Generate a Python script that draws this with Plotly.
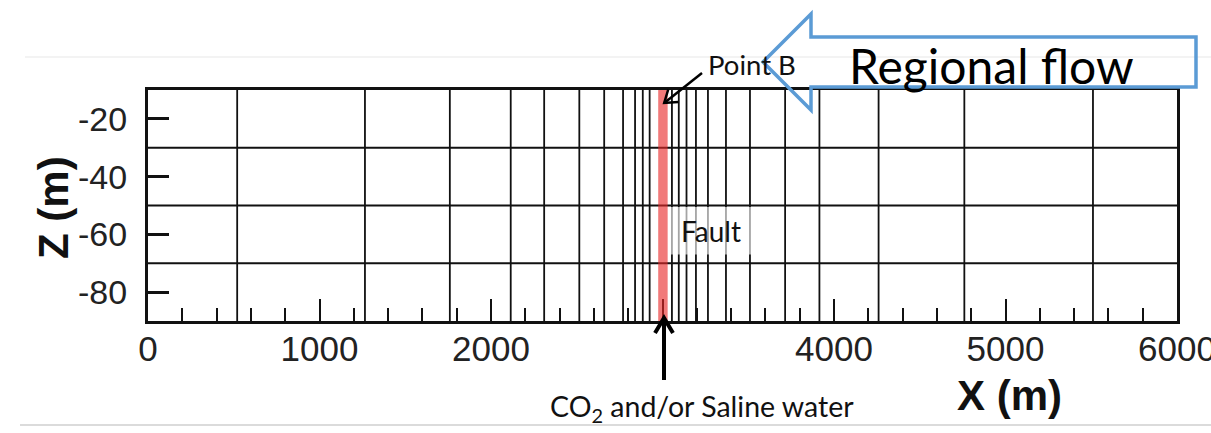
import plotly.graph_objects as go

# ---------------- data ----------------
X_RANGE = [0, 6000]
Z_RANGE = [-90, -10]
X_MESH = [520, 1265, 1760, 2115, 2310, 2515, 2660, 2770, 2840, 2885, 2925,
          3055, 3095, 3140, 3195, 3265, 3370, 3510, 3715, 3915, 4260, 4760, 5510]
Z_MESH = [-30, -50, -70]
Z_TICKS = [-20, -40, -60, -80]
X_TICKS = [0, 1000, 2000, 3000, 4000, 5000, 6000]
X_TICK_LABELS = ["0", "1000", "2000", "", "4000", "5000", "6000"]
FAULT_X = [2975, 3030]
FAULT_CENTER = 3000
POINT_B = (3010, -14.5)
FAULT_LABEL_BOX = [3032, 3585, -67, -50.5]
FAULT_LABEL_POS = (3281, -58.8)

# ---------------- geometry helpers ----------------
W, H = 1211, 433
PL, PR, PT, PB = 148, 1177, 90, 321


def xp(px):  # pixel -> paper
    return (px - PL) / (PR - PL)


def yp(py):
    return (PB - py) / (PB - PT)


def dx_paper(x):  # data -> paper
    return (x - X_RANGE[0]) / (X_RANGE[1] - X_RANGE[0])


def dy_paper(z):
    return (z - Z_RANGE[0]) / (Z_RANGE[1] - Z_RANGE[0])


def paper_to_px(px_, py_):
    return PL + px_ * (PR - PL), PB - py_ * (PB - PT)


fig = go.Figure()

# vertical mesh lines
vx, vy = [], []
for x in X_MESH:
    vx += [x, x, None]
    vy += [Z_RANGE[0], Z_RANGE[1], None]
fig.add_trace(go.Scatter(x=vx, y=vy, mode="lines",
                         line=dict(color="#111", width=1.8),
                         hoverinfo="skip", showlegend=False))
# horizontal mesh lines
hx, hy = [], []
for z in Z_MESH:
    hx += [X_RANGE[0], X_RANGE[1], None]
    hy += [z, z, None]
fig.add_trace(go.Scatter(x=hx, y=hy, mode="lines",
                         line=dict(color="#111", width=1.8),
                         hoverinfo="skip", showlegend=False))

shapes = []
# fault band
shapes.append(dict(type="rect", xref="x", yref="y", x0=FAULT_X[0], x1=FAULT_X[1],
                   y0=Z_RANGE[0], y1=Z_RANGE[1], fillcolor="rgba(232,40,40,0.62)",
                   line=dict(width=0), layer="above"))
# fault label box
shapes.append(dict(type="rect", xref="x", yref="y", x0=FAULT_LABEL_BOX[0], x1=FAULT_LABEL_BOX[1],
                   y0=FAULT_LABEL_BOX[2], y1=FAULT_LABEL_BOX[3], fillcolor="rgba(255,255,255,0.62)",
                   line=dict(width=0), layer="above"))

# slide guide lines
shapes.append(dict(type="line", xref="paper", yref="paper", x0=xp(25), x1=xp(1211),
                   y0=yp(57), y1=yp(57), line=dict(color="#efefef", width=1.5)))
shapes.append(dict(type="line", xref="paper", yref="paper", x0=xp(20), x1=xp(1211),
                   y0=yp(425), y1=yp(425), line=dict(color="#cfcfcf", width=1.5)))

# Regional flow arrow (blue outline)
poly = [(763, 62), (811, 14), (811, 37), (1196, 37), (1196, 87), (811, 87), (811, 110)]
path = "M " + " L ".join(f"{xp(a):.5f},{yp(b):.5f}" for a, b in poly) + " Z"
shapes.append(dict(type="path", xref="paper", yref="paper", path=path,
                   line=dict(color="#5b9bd5", width=3.5), fillcolor="rgba(0,0,0,0)"))

# CO2 arrow (vertical, open head)
cx_px, _ = paper_to_px(dx_paper(FAULT_CENTER), 0)
cx_px += 1.5
tip_y = PB - 3
shapes.append(dict(type="line", xref="paper", yref="paper", x0=xp(cx_px), x1=xp(cx_px),
                   y0=yp(380), y1=yp(tip_y + 2), line=dict(color="black", width=4)))
shapes.append(dict(type="path", xref="paper", yref="paper",
                   path=f"M {xp(cx_px-9):.5f},{yp(tip_y+15):.5f} L {xp(cx_px):.5f},{yp(tip_y):.5f} L {xp(cx_px+9):.5f},{yp(tip_y+15):.5f}",
                   line=dict(color="black", width=4), fillcolor="rgba(0,0,0,0)"))

# Point B arrow
bx_px, by_px = paper_to_px(dx_paper(POINT_B[0]), dy_paper(POINT_B[1]))
tail = (702, 73)
shapes.append(dict(type="line", xref="paper", yref="paper", x0=xp(tail[0]), y0=yp(tail[1]),
                   x1=xp(bx_px), y1=yp(by_px), line=dict(color="black", width=2.5)))
shapes.append(dict(type="path", xref="paper", yref="paper",
                   path=f"M {xp(bx_px+14):.5f},{yp(by_px-1):.5f} L {xp(bx_px):.5f},{yp(by_px):.5f} L {xp(bx_px+4):.5f},{yp(by_px-13.5):.5f}",
                   line=dict(color="black", width=2.5), fillcolor="rgba(0,0,0,0)"))

CAL = "Lato, Carlito, Calibri, sans-serif"
HEL = "Liberation Sans, Arial, Helvetica, sans-serif"

annotations = [
    dict(text="Regional flow", xref="paper", yref="paper", x=xp(991), y=yp(65),
         xanchor="center", yanchor="middle", showarrow=False,
         font=dict(family=CAL, size=48, color="black")),
    dict(text="Point B", xref="paper", yref="paper", x=xp(706), y=yp(64),
         xanchor="left", yanchor="middle", showarrow=False,
         font=dict(family=CAL, size=27.5, color="#111")),
    dict(text="Fault", xref="x", yref="y", x=FAULT_LABEL_POS[0], y=FAULT_LABEL_POS[1],
         xanchor="center", yanchor="middle", showarrow=False,
         font=dict(family=CAL, size=28, color="#111")),
    dict(text="CO<sub>2</sub> and/or Saline water", xref="paper", yref="paper", x=xp(702), y=yp(408),
         xanchor="center", yanchor="middle", showarrow=False,
         font=dict(family=CAL, size=28.5, color="#111")),
    dict(text="<b>X (m)</b>", xref="paper", yref="paper", x=xp(1009), y=yp(395),
         xanchor="center", yanchor="middle", showarrow=False,
         font=dict(family=HEL, size=42, color="#111")),
    dict(text="<b>Z (m)</b>", xref="paper", yref="paper", x=xp(53), y=yp(208),
         xanchor="center", yanchor="middle", showarrow=False, textangle=-90,
         font=dict(family=HEL, size=42, color="#111")),
]

fig.update_layout(
    width=W, height=H,
    margin=dict(l=PL, r=W - PR, t=PT, b=H - PB, pad=0, autoexpand=False),
    paper_bgcolor="white", plot_bgcolor="white",
    shapes=shapes, annotations=annotations,
    showlegend=False,
)
fig.update_xaxes(range=X_RANGE, tickvals=X_TICKS, ticktext=X_TICK_LABELS, automargin=False,
                 showgrid=False, zeroline=False, showline=True, linecolor="#111", linewidth=3,
                 mirror=True, ticks="inside", ticklen=22, tickwidth=2, tickcolor="#111",
                 tickfont=dict(family=HEL, size=35, color="#222"), ticklabelstandoff=-5,
                 ticklabeloverflow="allow",
                 minor=dict(dtick=200, tick0=0, ticks="inside", ticklen=13, tickwidth=2,
                            tickcolor="#111", showgrid=False))
fig.update_yaxes(range=Z_RANGE, tickvals=Z_TICKS, ticktext=[str(v) for v in Z_TICKS], automargin=False,
                 showgrid=False, zeroline=False, showline=True, linecolor="#111", linewidth=3,
                 mirror=True, ticks="inside", ticklen=21, tickwidth=2.5, tickcolor="#111",
                 tickfont=dict(family=HEL, size=34, color="#222"), ticklabelstandoff=11)

fig.write_html("out.html")
